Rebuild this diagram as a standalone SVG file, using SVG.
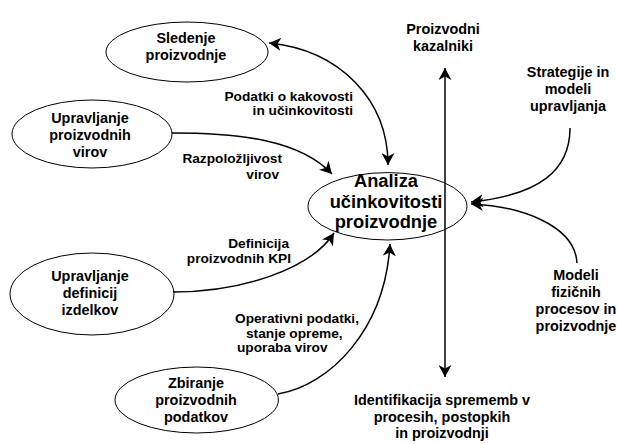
<svg xmlns="http://www.w3.org/2000/svg" width="617" height="444" viewBox="0 0 617 444">
<style>
  .bg { fill: #ffffff; }
  .node { fill: #ffffff; stroke: #000000; stroke-width: 1; }
  .t { font-family: "Liberation Sans", Arial, Helvetica, sans-serif; font-weight: bold; fill: #000000; }
  .nt { font-size: 14.4px; text-anchor: middle; }
  .ct { font-size: 18.3px; text-anchor: middle; }
  .el { font-size: 13.7px; }
  .edge { fill: none; stroke: #000000; stroke-width: 1.5; }
</style>
<defs>
  <marker id="arr" viewBox="-12 -6.5 12 13" refX="0" refY="0" markerWidth="12" markerHeight="13" markerUnits="userSpaceOnUse" orient="auto-start-reverse">
    <path d="M0,0 L-12,-6.5 L-8.5,0 L-12,6.5 Z" fill="#000000"/>
  </marker>
</defs>
<rect class="bg" x="0" y="0" width="617" height="444"/>

<g id="node-analiza">
  <ellipse class="node" cx="387.5" cy="206.3" rx="79.5" ry="33.7"/>
  <text class="t ct"><tspan x="386" y="186.7">Analiza</tspan><tspan x="386" y="208">učinkovitosti</tspan><tspan x="386" y="228.3">proizvodnje</tspan></text>
</g>

<g id="node-sledenje">
  <ellipse class="node" cx="187" cy="52" rx="81" ry="30"/>
  <text class="t nt"><tspan x="186" y="43">Sledenje</tspan><tspan x="186" y="60">proizvodnje</tspan></text>
</g>

<g id="node-viri">
  <ellipse class="node" cx="92" cy="134" rx="80" ry="34"/>
  <text class="t nt"><tspan x="90" y="122.5">Upravljanje</tspan><tspan x="90" y="139.5">proizvodnih</tspan><tspan x="90" y="156.5">virov</tspan></text>
</g>

<g id="node-izdelki">
  <ellipse class="node" cx="92" cy="294" rx="82" ry="41"/>
  <text class="t nt"><tspan x="90" y="280.5">Upravljanje</tspan><tspan x="90" y="297.5">definicij</tspan><tspan x="90" y="314.5">izdelkov</tspan></text>
</g>

<g id="node-zbiranje">
  <ellipse class="node" cx="196.7" cy="400" rx="81.7" ry="33"/>
  <text class="t nt"><tspan x="196" y="388">Zbiranje</tspan><tspan x="196" y="405">proizvodnih</tspan><tspan x="196" y="422">podatkov</tspan></text>
</g>

<g id="node-kazalniki">
  <text class="t nt"><tspan x="443" y="33.5">Proizvodni</tspan><tspan x="443" y="50.5">kazalniki</tspan></text>
</g>

<g id="node-strategije">
  <text class="t nt"><tspan x="568" y="77">Strategije in</tspan><tspan x="568" y="94">modeli</tspan><tspan x="568" y="111">upravljanja</tspan></text>
</g>

<g id="node-modeli">
  <text class="t nt"><tspan x="576" y="280">Modeli</tspan><tspan x="576" y="297">fizičnih</tspan><tspan x="576" y="314">procesov in</tspan><tspan x="576" y="331">proizvodnje</tspan></text>
</g>

<g id="node-identifikacija">
  <text class="t nt"><tspan x="442" y="405">Identifikacija sprememb v</tspan><tspan x="442" y="421.5">procesih, postopkih</tspan><tspan x="442" y="437.5">in proizvodnji</tspan></text>
</g>

<g id="connectors">
  <path class="edge" d="M269,43 C340,50 388,100 388,165" marker-start="url(#arr)" marker-end="url(#arr)"/>
  <path class="edge" d="M172,133 C240,133 300,140 332,174" marker-end="url(#arr)"/>
  <path class="edge" d="M173,292 C240,292 310,270 334,233" marker-end="url(#arr)"/>
  <path class="edge" d="M278,394 C330,385 385,330 390,244" marker-end="url(#arr)"/>
  <path class="edge" d="M445,68 L445,377" marker-start="url(#arr)" marker-end="url(#arr)"/>
  <path class="edge" d="M570,128 C570,170 540,195 471,202" marker-end="url(#arr)"/>
  <path class="edge" d="M577,263 C575,225 520,206 471,204" marker-end="url(#arr)"/>
</g>

<g id="edge-labels">
  <text class="t el" text-anchor="end"><tspan x="353" y="100.5">Podatki o kakovosti</tspan><tspan x="353" y="115">in učinkovitosti</tspan></text>
  <text class="t el" text-anchor="end"><tspan x="282" y="163">Razpoložljivost</tspan><tspan x="279" y="178.5">virov</tspan></text>
  <text class="t el" text-anchor="end"><tspan x="289" y="248.3">Definicija</tspan><tspan x="291" y="263.3">proizvodnih KPI</tspan></text>
  <text class="t el"><tspan x="235" y="323">Operativni podatki,</tspan><tspan x="246" y="337.5">stanje opreme,</tspan><tspan x="237" y="351.5">uporaba virov</tspan></text>
</g>
</svg>
